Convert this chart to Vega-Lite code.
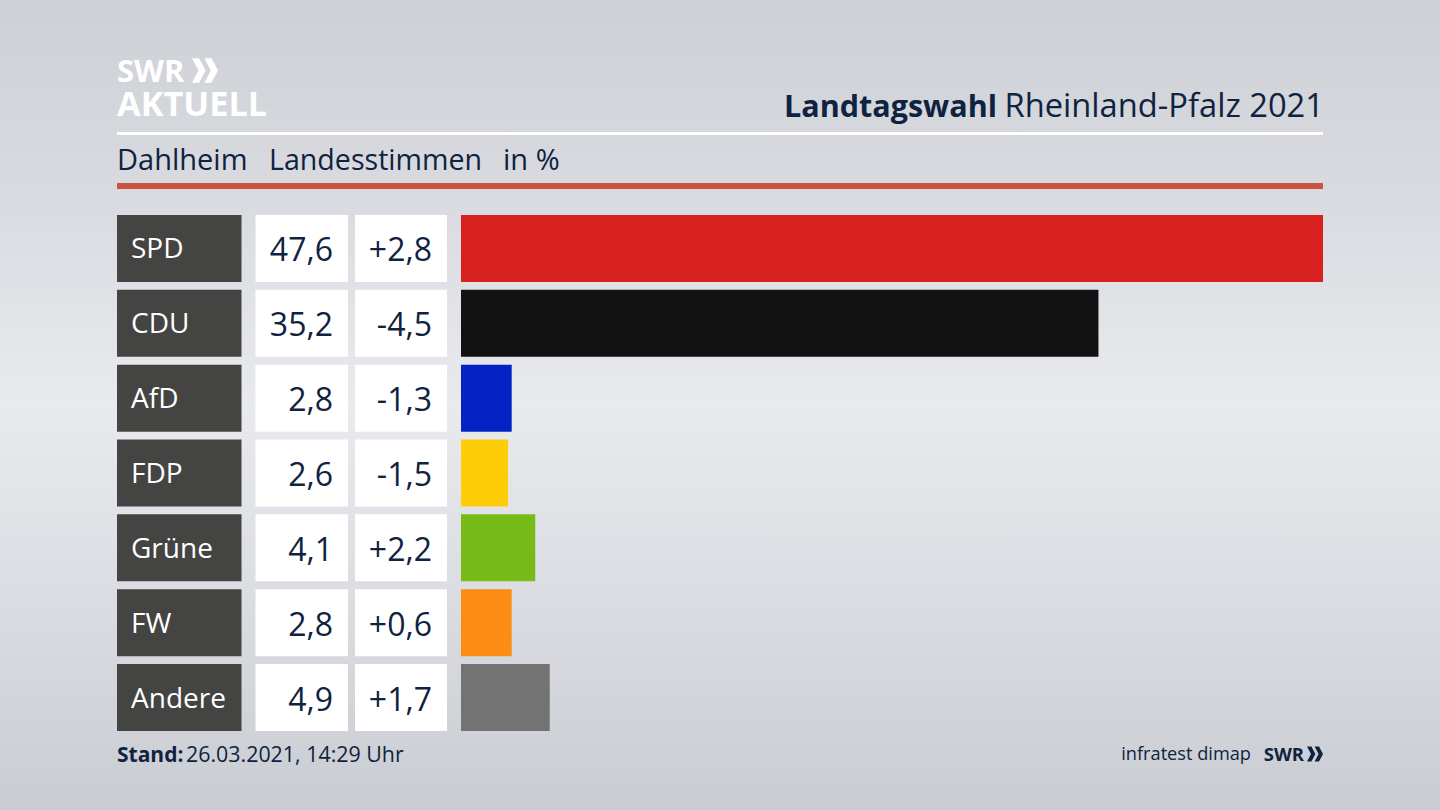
{
  "$schema": "https://vega.github.io/schema/vega-lite/v6.json",
  "width": 1440,
  "height": 810,
  "autosize": {"type": "fit", "contains": "padding"},
  "padding": 0,
  "background": "#dcdee3",
  "datasets": {
    "results": [
      {"party": "SPD", "share": 47.6, "diff": 2.8},
      {"party": "CDU", "share": 35.2, "diff": -4.5},
      {"party": "AfD", "share": 2.8, "diff": -1.3},
      {"party": "FDP", "share": 2.6, "diff": -1.5},
      {"party": "Grüne", "share": 4.1, "diff": 2.2},
      {"party": "FW", "share": 2.8, "diff": 0.6},
      {"party": "Andere", "share": 4.9, "diff": 1.7}
    ]
  },
  "config": {
    "view": {"stroke": null},
    "axis": {"disable": true},
    "locale": {"number": {"decimal": ",", "thousands": ".", "grouping": [3], "currency": ["", " €"], "minus": "-"}},
    "text": {"font": "Open Sans", "color": "#0f2340"}
  },
  "resolve": {"scale": {"x": "independent", "y": "independent", "color": "independent"}},
  "layer": [
    {
      "data": {"values": [{"part": "background"}]},
      "mark": {
        "type": "rect",
        "x": 0,
        "x2": 1440,
        "y": 0,
        "y2": 810,
        "color": {"gradient": "linear", "x1": 0, "y1": 0, "x2": 0, "y2": 1, "stops": [
          {"offset": 0, "color": "#cdd0d6"},
          {"offset": 0.25, "color": "#d9dbe0"},
          {"offset": 0.5, "color": "#e9eaee"},
          {"offset": 0.75, "color": "#dadce1"},
          {"offset": 1, "color": "#c9ccd2"}
        ]}
      }
    },
    {
      "layer": [
        {
          "data": {"values": [{"t": "SWR"}]},
          "mark": {"type": "text", "align": "left", "baseline": "alphabetic", "fontSize": 31, "fontWeight": "bold", "color": "#ffffff"},
          "encoding": {
            "x": {"datum": 117, "type": "quantitative", "scale": {"domain": [0, 1440]}},
            "y": {"datum": 82, "type": "quantitative", "scale": {"domain": [810, 0]}},
            "text": {"field": "t"}
          }
        },
        {
          "data": {"values": [{"logo": "chevrons"}]},
          "mark": {"type": "point", "filled": true, "opacity": 1, "color": "#ffffff", "size": 676, "shape": "M-1,-0.95L-0.45,-0.95L0.05,0L-0.45,0.95L-1,0.95L-0.5,0ZM-0.05,-0.95L0.5,-0.95L1,0L0.5,0.95L-0.05,0.95L0.45,0Z"},
          "encoding": {
            "x": {"datum": 205, "type": "quantitative", "scale": {"domain": [0, 1440]}},
            "y": {"datum": 70.5, "type": "quantitative", "scale": {"domain": [810, 0]}}
          }
        },
        {
          "data": {"values": [{"t": "AKTUELL"}]},
          "mark": {"type": "text", "align": "left", "baseline": "alphabetic", "fontSize": 34.3, "fontWeight": "bold", "color": "#ffffff"},
          "encoding": {
            "x": {"datum": 117, "type": "quantitative", "scale": {"domain": [0, 1440]}},
            "y": {"datum": 116, "type": "quantitative", "scale": {"domain": [810, 0]}},
            "text": {"field": "t"}
          }
        },
        {
          "data": {"values": [{"t": "Landtagswahl"}]},
          "mark": {"type": "text", "align": "right", "baseline": "alphabetic", "fontSize": 30.5, "fontWeight": "bold"},
          "encoding": {
            "x": {"datum": 997, "type": "quantitative", "scale": {"domain": [0, 1440]}},
            "y": {"datum": 117, "type": "quantitative", "scale": {"domain": [810, 0]}},
            "text": {"field": "t"}
          }
        },
        {
          "data": {"values": [{"t": "Rheinland-Pfalz 2021"}]},
          "mark": {"type": "text", "align": "right", "baseline": "alphabetic", "fontSize": 32.7},
          "encoding": {
            "x": {"datum": 1324, "type": "quantitative", "scale": {"domain": [0, 1440]}},
            "y": {"datum": 117, "type": "quantitative", "scale": {"domain": [810, 0]}},
            "text": {"field": "t"}
          }
        },
        {
          "data": {"values": [{"t": "Dahlheim"}]},
          "mark": {"type": "text", "align": "left", "baseline": "alphabetic", "fontSize": 29},
          "encoding": {
            "x": {"datum": 117, "type": "quantitative", "scale": {"domain": [0, 1440]}},
            "y": {"datum": 170, "type": "quantitative", "scale": {"domain": [810, 0]}},
            "text": {"field": "t"}
          }
        },
        {
          "data": {"values": [{"t": "Landesstimmen"}]},
          "mark": {"type": "text", "align": "left", "baseline": "alphabetic", "fontSize": 28.6},
          "encoding": {
            "x": {"datum": 269, "type": "quantitative", "scale": {"domain": [0, 1440]}},
            "y": {"datum": 170, "type": "quantitative", "scale": {"domain": [810, 0]}},
            "text": {"field": "t"}
          }
        },
        {
          "data": {"values": [{"t": "in %"}]},
          "mark": {"type": "text", "align": "left", "baseline": "alphabetic", "fontSize": 29},
          "encoding": {
            "x": {"datum": 503, "type": "quantitative", "scale": {"domain": [0, 1440]}},
            "y": {"datum": 170, "type": "quantitative", "scale": {"domain": [810, 0]}},
            "text": {"field": "t"}
          }
        },
        {
          "data": {"values": [{"line": "top"}]},
          "mark": {"type": "rule", "color": "#ffffff", "strokeWidth": 3},
          "encoding": {
            "x": {"datum": 117, "type": "quantitative", "scale": {"domain": [0, 1440]}},
            "x2": {"datum": 1323},
            "y": {"datum": 133.5, "type": "quantitative", "scale": {"domain": [810, 0]}}
          }
        },
        {
          "data": {"values": [{"line": "bottom"}]},
          "mark": {"type": "rule", "color": "#c9533c", "strokeWidth": 6},
          "encoding": {
            "x": {"datum": 117, "type": "quantitative", "scale": {"domain": [0, 1440]}},
            "x2": {"datum": 1323},
            "y": {"datum": 186, "type": "quantitative", "scale": {"domain": [810, 0]}}
          }
        },
        {
          "data": {"values": [{"t": "Stand:"}]},
          "mark": {"type": "text", "align": "left", "baseline": "alphabetic", "fontSize": 21, "fontWeight": "bold"},
          "encoding": {
            "x": {"datum": 117, "type": "quantitative", "scale": {"domain": [0, 1440]}},
            "y": {"datum": 762, "type": "quantitative", "scale": {"domain": [810, 0]}},
            "text": {"field": "t"}
          }
        },
        {
          "data": {"values": [{"t": "26.03.2021, 14:29 Uhr"}]},
          "mark": {"type": "text", "align": "left", "baseline": "alphabetic", "fontSize": 21.4},
          "encoding": {
            "x": {"datum": 186, "type": "quantitative", "scale": {"domain": [0, 1440]}},
            "y": {"datum": 762, "type": "quantitative", "scale": {"domain": [810, 0]}},
            "text": {"field": "t"}
          }
        },
        {
          "data": {"values": [{"t": "infratest dimap"}]},
          "mark": {"type": "text", "align": "right", "baseline": "alphabetic", "fontSize": 18.2},
          "encoding": {
            "x": {"datum": 1251, "type": "quantitative", "scale": {"domain": [0, 1440]}},
            "y": {"datum": 760, "type": "quantitative", "scale": {"domain": [810, 0]}},
            "text": {"field": "t"}
          }
        },
        {
          "data": {"values": [{"t": "SWR"}]},
          "mark": {"type": "text", "align": "right", "baseline": "alphabetic", "fontSize": 18.5, "fontWeight": "bold"},
          "encoding": {
            "x": {"datum": 1304, "type": "quantitative", "scale": {"domain": [0, 1440]}},
            "y": {"datum": 760.5, "type": "quantitative", "scale": {"domain": [810, 0]}},
            "text": {"field": "t"}
          }
        },
        {
          "data": {"values": [{"logo": "chevrons"}]},
          "mark": {"type": "point", "filled": true, "opacity": 1, "color": "#0f2340", "size": 256, "shape": "M-1,-0.95L-0.45,-0.95L0.05,0L-0.45,0.95L-1,0.95L-0.5,0ZM-0.05,-0.95L0.5,-0.95L1,0L0.5,0.95L-0.05,0.95L0.45,0Z"},
          "encoding": {
            "x": {"datum": 1315, "type": "quantitative", "scale": {"domain": [0, 1440]}},
            "y": {"datum": 754, "type": "quantitative", "scale": {"domain": [810, 0]}}
          }
        }
      ]
    },
    {
      "data": {"name": "results"},
      "encoding": {
        "y": {"field": "party", "type": "nominal", "sort": null, "scale": {"range": [215, 731], "paddingInner": 0.105, "paddingOuter": 0}},
        "x": {"datum": 1, "type": "quantitative", "scale": {"domain": [0, 1], "range": [117, 241.5]}}
      },
      "layer": [
        {"mark": {"type": "bar", "color": "#444442"}},
        {
          "mark": {"type": "text", "align": "left", "dx": -110.5, "dy": 2, "fontSize": 28, "color": "#ffffff"},
          "encoding": {"text": {"field": "party"}}
        }
      ]
    },
    {
      "data": {"name": "results"},
      "encoding": {
        "y": {"field": "party", "type": "nominal", "sort": null, "scale": {"range": [215, 731], "paddingInner": 0.105, "paddingOuter": 0}},
        "x": {"datum": 1, "type": "quantitative", "scale": {"domain": [0, 1], "range": [255.5, 348]}}
      },
      "layer": [
        {"mark": {"type": "bar", "color": "#ffffff"}},
        {
          "mark": {"type": "text", "align": "right", "dx": -15, "dy": 3, "fontSize": 32},
          "encoding": {"text": {"field": "share", "type": "quantitative", "format": ".1f"}}
        }
      ]
    },
    {
      "data": {"name": "results"},
      "encoding": {
        "y": {"field": "party", "type": "nominal", "sort": null, "scale": {"range": [215, 731], "paddingInner": 0.105, "paddingOuter": 0}},
        "x": {"datum": 1, "type": "quantitative", "scale": {"domain": [0, 1], "range": [355, 447]}}
      },
      "layer": [
        {"mark": {"type": "bar", "color": "#ffffff"}},
        {
          "mark": {"type": "text", "align": "right", "dx": -15, "dy": 3, "fontSize": 32},
          "encoding": {"text": {"field": "diff", "type": "quantitative", "format": "+.1f"}}
        }
      ]
    },
    {
      "data": {"name": "results"},
      "mark": "bar",
      "encoding": {
        "y": {"field": "party", "type": "nominal", "sort": null, "scale": {"range": [215, 731], "paddingInner": 0.105, "paddingOuter": 0}},
        "x": {"field": "share", "type": "quantitative", "scale": {"domain": [0, 47.6], "range": [461, 1323]}},
        "color": {
          "field": "party",
          "type": "nominal",
          "legend": null,
          "scale": {
            "domain": ["SPD", "CDU", "AfD", "FDP", "Grüne", "FW", "Andere"],
            "range": ["#d8201f", "#121212", "#0423c4", "#ffcc08", "#77bb19", "#fc8d14", "#737373"]
          }
        }
      }
    }
  ]
}
